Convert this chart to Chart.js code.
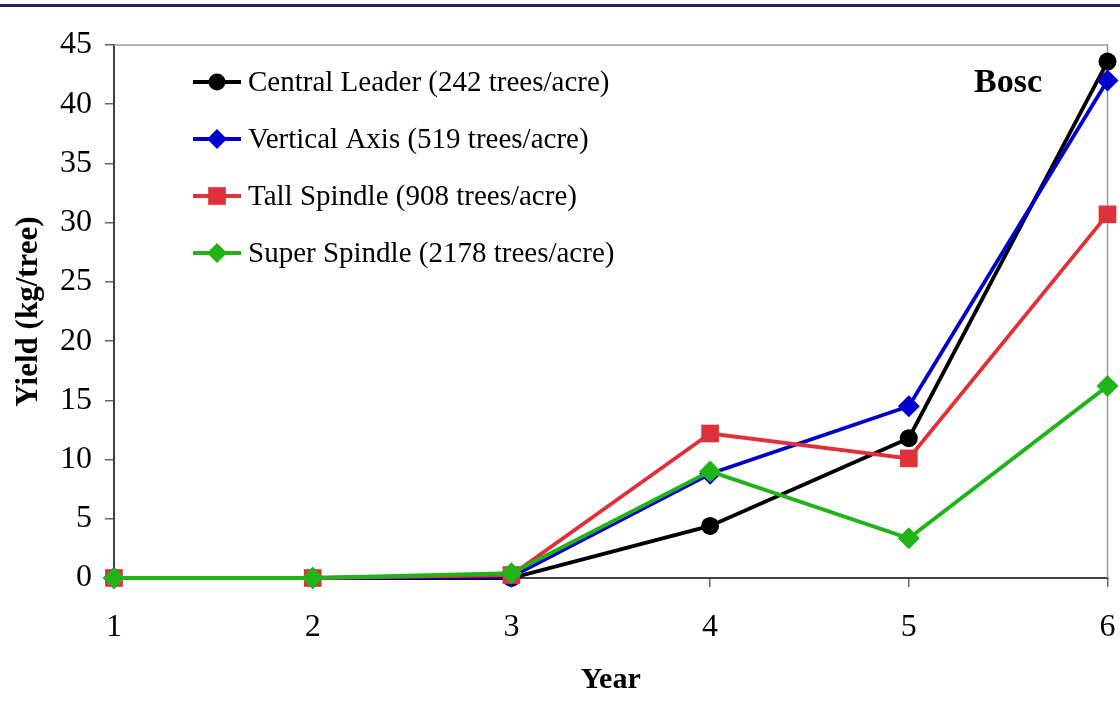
<!DOCTYPE html>
<html>
<head>
<meta charset="utf-8">
<script src="https://cdn.jsdelivr.net/npm/chart.js@4/dist/chart.umd.min.js"></script>
<style>
  html, body { margin: 0; padding: 0; background: #fff; }
  #wrap { position: relative; width: 1120px; height: 715px; }
  #topline { position: absolute; left: 0; top: 4px; width: 1120px; height: 3px; background: #23235e; }
  canvas { position: absolute; left: 0; top: 0; }
</style>
</head>
<body>
<div id="wrap">
  <canvas id="c" width="1120" height="715"></canvas>
  <div id="topline"></div>
</div>
<script>
const years = ['1', '2', '3', '4', '5', '6'];
const centralLeader = [0, 0, 0, 4.4, 11.8, 43.6];
const verticalAxis = [0, 0, 0.1, 8.8, 14.5, 42.0];
const tallSpindle = [0, 0, 0.25, 12.2, 10.1, 30.7];
const superSpindle = [0, 0, 0.4, 9.0, 3.35, 16.2];
const seriesNames = [
  'Central Leader (242 trees/acre)',
  'Vertical Axis (519 trees/acre)',
  'Tall Spindle (908 trees/acre)',
  'Super Spindle (2178 trees/acre)'
];
const yTicks = [0, 5, 10, 15, 20, 25, 30, 35, 40, 45];
const chartLabel = 'Bosc';

const SERIF = '"Liberation Serif", "Times New Roman", serif';
const colors = ['#000000', '#0000cc', '#e0303a', '#20b418'];
const styles = ['circle', 'rectRot', 'rect', 'rectRot'];
const radii = [9, 11, 12.5, 11];
const legendRadii = [8.5, 10, 12.5, 10];
const values = [centralLeader, verticalAxis, tallSpindle, superSpindle];

const datasets = values.map((v, i) => ({
  label: seriesNames[i],
  data: v,
  borderColor: colors[i],
  backgroundColor: colors[i],
  borderWidth: 3.8,
  pointStyle: styles[i],
  pointRadius: radii[i],
  pointBorderWidth: 0,
  pointBackgroundColor: colors[i],
  order: 3 - i,
  clip: false,
  tension: 0
}));

const framePlugin = {
  id: 'frame',
  beforeDatasetsDraw(chart) {
    const { ctx, chartArea: a } = chart;
    ctx.save();
    ctx.strokeStyle = '#9a9a9a';
    ctx.lineWidth = 1.5;
    ctx.beginPath();
    ctx.moveTo(a.left, a.top);
    ctx.lineTo(a.right, a.top);
    ctx.lineTo(a.right, a.bottom);
    ctx.stroke();
    ctx.restore();
  },
  afterDraw(chart) {
    const { ctx } = chart;
    ctx.save();
    const x0 = 193, x1 = 241, mx = 217, tx = 248;
    const rows = [82, 139, 196, 253];
    chart.data.datasets.forEach((ds, i) => {
      const y = rows[i];
      ctx.strokeStyle = ds.borderColor;
      ctx.lineWidth = 3.8;
      ctx.beginPath();
      ctx.moveTo(x0, y);
      ctx.lineTo(x1, y);
      ctx.stroke();
      ctx.fillStyle = ds.backgroundColor;
      ctx.strokeStyle = ds.backgroundColor;
      Chart.helpers.drawPoint(ctx, { pointStyle: ds.pointStyle, radius: legendRadii[i], borderWidth: 0, rotation: 0 }, mx, y);
      ctx.fillStyle = '#000';
      ctx.font = '29px ' + SERIF;
      ctx.textAlign = 'left';
      ctx.textBaseline = 'middle';
      ctx.fillText(ds.label, tx, y + 1);
    });
    ctx.fillStyle = '#000';
    ctx.font = 'bold 34px ' + SERIF;
    ctx.textAlign = 'center';
    ctx.textBaseline = 'middle';
    ctx.fillText(chartLabel, 1008, 83);
    ctx.restore();
  }
};

new Chart(document.getElementById('c'), {
  type: 'line',
  data: { labels: years, datasets },
  options: {
    responsive: false,
    animation: false,
    devicePixelRatio: 1,
    layout: { padding: { left: 0, right: 0, top: 45, bottom: 0 } },
    plugins: { legend: { display: false }, tooltip: { enabled: false } },
    scales: {
      x: {
        type: 'category',
        offset: false,
        afterFit(s) { s.height = 137; s.paddingLeft = 0; s.paddingRight = 10; },
        grid: { drawOnChartArea: false, drawTicks: true, tickLength: 9, tickColor: '#666', lineWidth: 1.5 },
        border: { display: true, color: '#404040', width: 2 },
        ticks: { color: '#000', font: { family: SERIF, size: 32 }, padding: 21, maxRotation: 0 },
        title: { display: true, text: 'Year', color: '#000', font: { family: SERIF, size: 30, weight: 'bold' }, padding: { top: 0, bottom: 17 } }
      },
      y: {
        min: 0,
        max: 45,
        afterFit(s) { s.width = 114; s.paddingTop = 0; s.paddingBottom = 0; },
        afterBuildTicks(s) { s.ticks = yTicks.map(v => ({ value: v })); },
        grid: { drawOnChartArea: false, drawTicks: true, tickLength: 9, tickColor: '#666', lineWidth: 1.5 },
        border: { display: true, color: '#404040', width: 2 },
        ticks: { color: '#000', font: { family: SERIF, size: 32 }, padding: 13 },
        title: { display: true, text: 'Yield (kg/tree)', color: '#000', font: { family: SERIF, size: 31, weight: 'bold' }, padding: { top: 10, bottom: 0 } }
      }
    }
  },
  plugins: [framePlugin]
});
</script>
</body>
</html>
